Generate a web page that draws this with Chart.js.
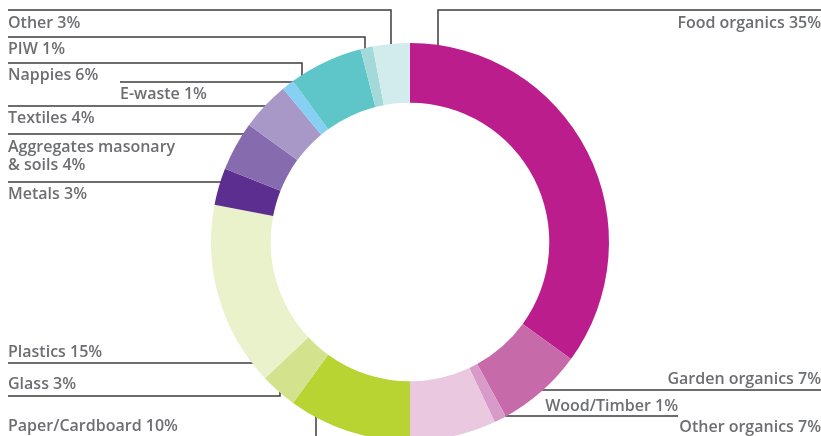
<!DOCTYPE html>
<html>
<head>
<meta charset="utf-8">
<script src="https://cdn.jsdelivr.net/npm/chart.js@4.4.1/dist/chart.umd.min.js"></script>
<style>
  html, body { margin: 0; padding: 0; overflow: hidden; background: #fff; }
  canvas { display: block; }
</style>
</head>
<body>
<canvas id="wasteChart" width="821" height="441"></canvas>
<script>
// waste composition, clockwise from the top
const categories = ["Food organics", "Garden organics", "Wood/Timber", "Other organics",
  "Paper/Cardboard", "Glass", "Plastics", "Metals", "Aggregates masonary & soils",
  "Textiles", "E-waste", "Nappies", "PIW", "Other"];
const shares = [35, 7, 1, 7, 10, 3, 15, 3, 4, 4, 1, 6, 1, 3];
const colours = ["#bb1e8c", "#c66aa9", "#d89ac8", "#e9c8e0", "#b8d433", "#d3e28c",
  "#e9f2cb", "#5b2e8f", "#866cae", "#a898c8", "#85d0f3", "#5ec5c8", "#a3d9d9", "#d2eced"];

// where each label sits and how its leader runs (same order as categories)
const labelSpots = [
  { x: 821, y: 23, align: "right", lineY: 10, from: 821, elbow: 438 },
  { x: 821, y: 379, align: "right", lineY: 390, from: 821 },
  { x: 678, y: 406, align: "right", lineY: 416, from: 678 },
  { x: 821, y: 427, align: "right" },
  { x: 8, y: 426, align: "left", lineY: 446, from: 8, elbow: 316 },
  { x: 8, y: 384, align: "left", lineY: 396, from: 8, elbow: 280 },
  { x: 8, y: 352, align: "left", lineY: 363, from: 8 },
  { x: 8, y: 194, align: "left", lineY: 182, from: 8 },
  { x: 8, y: 147, align: "left", lineY: 134, from: 8, wrapAfter: 2 },
  { x: 8, y: 118, align: "left", lineY: 106, from: 8 },
  { x: 120, y: 94, align: "left", lineY: 82, from: 120 },
  { x: 8, y: 75, align: "left", lineY: 63, from: 8, elbow: 302 },
  { x: 8, y: 49, align: "left", lineY: 37, from: 8, elbow: 365 },
  { x: 8, y: 23, align: "left", lineY: 10, from: 8, elbow: 391 }
];

function ringInfo(chart) {
  const arc = chart.getDatasetMeta(0).data[0];
  return { cx: arc.x, cy: arc.y, r: arc.outerRadius };
}

// leader lines go under the ring so they tuck in neatly
const leaders = {
  id: "leaders",
  beforeDatasetsDraw(chart) {
    const ctx = chart.ctx;
    const { cx, cy, r } = ringInfo(chart);
    ctx.save();
    ctx.strokeStyle = "#3d3d3d";
    ctx.lineWidth = 1.5;
    labelSpots.forEach(s => {
      if (s.lineY === undefined) return;
      ctx.beginPath();
      ctx.moveTo(s.from, s.lineY);
      if (s.elbow !== undefined) {
        const side = s.lineY < cy ? -1 : 1;
        const dy = Math.sqrt(r * r - (s.elbow - cx) * (s.elbow - cx));
        ctx.lineTo(s.elbow, s.lineY);
        ctx.lineTo(s.elbow, cy + side * (dy - 4));
      } else {
        const side = s.from < cx ? -1 : 1;
        const dx = Math.sqrt(r * r - (s.lineY - cy) * (s.lineY - cy));
        ctx.lineTo(cx + side * (dx - 4), s.lineY);
      }
      ctx.stroke();
    });
    ctx.restore();
  },
  afterDraw(chart) {
    const ctx = chart.ctx;
    ctx.save();
    ctx.fillStyle = "#6d6e71";
    ctx.font = "600 16px 'Open Sans', sans-serif";
    ctx.textBaseline = "middle";
    labelSpots.forEach((s, i) => {
      let text = categories[i] + " " + shares[i] + "%";
      let lines = [text];
      if (s.wrapAfter) {
        const words = text.split(" ");
        lines = [words.slice(0, s.wrapAfter).join(" "), words.slice(s.wrapAfter).join(" ")];
      }
      ctx.textAlign = s.align;
      lines.forEach((l, k) => ctx.fillText(l, s.x, s.y + k * 18));
    });
    ctx.restore();
  }
};

new Chart(document.getElementById("wasteChart"), {
  type: "doughnut",
  data: {
    labels: categories,
    datasets: [{
      data: shares,
      backgroundColor: colours,
      borderWidth: 0,
      hoverOffset: 0
    }]
  },
  options: {
    responsive: false,
    animation: false,
    cutout: "70%",
    layout: { padding: { top: 43, bottom: 0, left: 211, right: 212 } },
    plugins: {
      legend: { display: false },
      tooltip: { enabled: false }
    }
  },
  plugins: [leaders]
});
</script>
</body>
</html>
